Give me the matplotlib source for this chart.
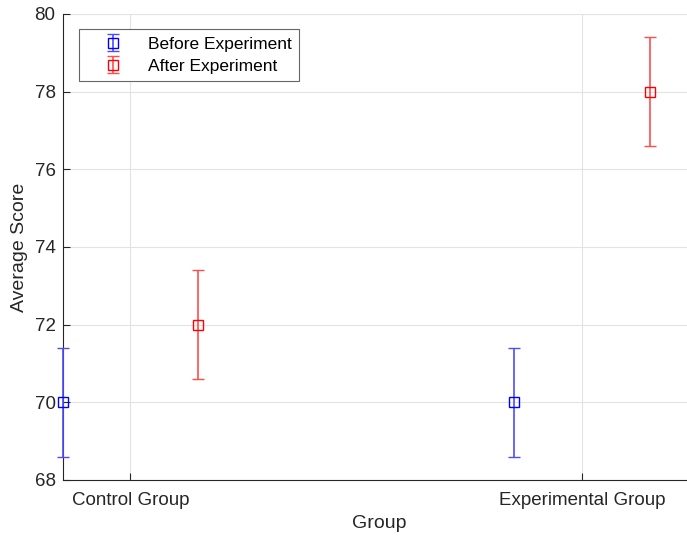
import matplotlib.pyplot as plt
import numpy as np

plt.rcParams['font.family'] = ['Liberation Sans', 'DejaVu Sans']

groups = ['Control Group', 'Experimental Group']
before_mean = [70, 70]
before_err = [1.4, 1.4]
after_mean = [72, 78]
after_err = [1.4, 1.4]

x = np.arange(1, len(groups) + 1)
offset = 0.15

fig = plt.figure(figsize=(6.87, 5.36), dpi=100)
ax = fig.add_axes([0.091, 0.1045, 0.921, 0.8694])

ax.errorbar(x - offset, before_mean, yerr=before_err, fmt='s', color='blue',
            ecolor='#4d4dff', mfc='none', ms=6.5, mew=1, elinewidth=1.2,
            capsize=4.2, capthick=1.2, label='Before Experiment',
            clip_on=False, zorder=3)
ax.errorbar(x + offset, after_mean, yerr=after_err, fmt='s', color='red',
            ecolor='#ff4d4d', mfc='none', ms=6.5, mew=1, elinewidth=1.2,
            capsize=4.2, capthick=1.2, label='After Experiment',
            clip_on=False, zorder=3)

ax.set_xlim(0.85, 2.25)
ax.set_ylim(68, 80)
ax.set_xticks(x)
ax.set_xticklabels(groups)
ax.set_yticks(np.arange(68, 81, 2))
ax.set_xlabel('Group', fontsize=14, color='#262626', labelpad=4)
ax.set_ylabel('Average Score', fontsize=14, color='#262626', labelpad=5)

ax.grid(True, color='#e3e3e3', linewidth=0.8)
ax.set_axisbelow(True)
for s in ['top', 'right']:
    ax.spines[s].set_visible(False)
for s in ['left', 'bottom']:
    ax.spines[s].set_color('#262626')
ax.tick_params(direction='in', labelsize=13.5, colors='#262626', length=5)
ax.tick_params(axis='x', pad=9)
ax.tick_params(axis='y', pad=5)

leg = ax.legend(loc='upper left', bbox_to_anchor=(0.026, 0.968), fontsize=12.5,
                fancybox=False, edgecolor='#666666', framealpha=1,
                handlelength=3, handletextpad=0.5, borderpad=0.45,
                labelspacing=0.38, borderaxespad=0)
leg.get_frame().set_linewidth(0.8)

fig.savefig('out.png', dpi=100)
